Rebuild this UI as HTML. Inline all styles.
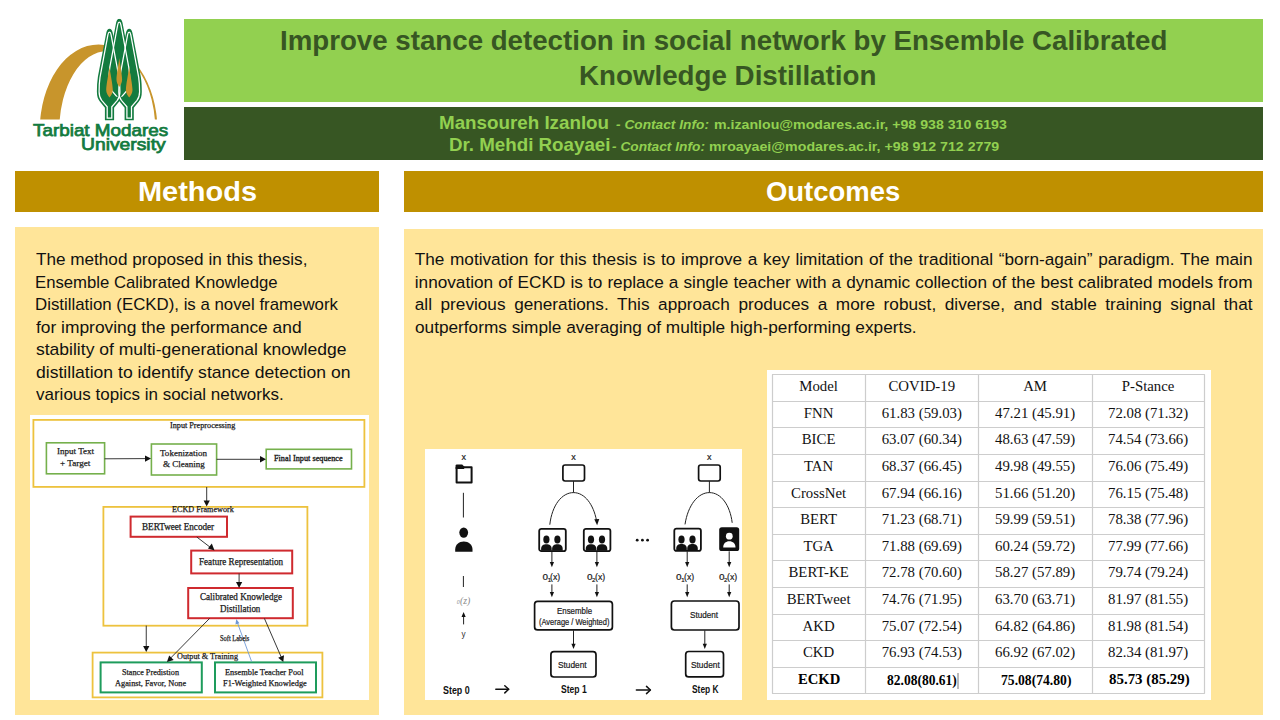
<!DOCTYPE html>
<html><head><meta charset="utf-8">
<style>
*{margin:0;padding:0;box-sizing:border-box}
html,body{width:1280px;height:720px;overflow:hidden;background:#fff;font-family:"Liberation Sans",sans-serif}
.a{position:absolute}
.t{position:absolute;white-space:nowrap;transform-origin:0 0}
#title{left:184px;top:19px;width:1079px;height:83px;background:#92D050}
#auth{left:184px;top:107px;width:1079px;height:53px;background:#375623}
.bar{background:#BF9000}
#mbar{left:15px;top:171px;width:364px;height:41px}
#obar{left:404px;top:171px;width:859px;height:41px}
#mbox{left:15px;top:227px;width:364px;height:488px;background:#FFE599}
#obox{left:404px;top:229px;width:859px;height:486px;background:#FFE599}
#mimg{left:30px;top:415px;width:339px;height:285px;background:#fff}
#oimg{left:425px;top:449px;width:317px;height:251px;background:#fff}
#timg{left:767px;top:370px;width:444px;height:330px;background:#fff}
svg{position:absolute;left:0;top:0}
</style></head><body>
<div class="a" id="title"></div>
<div class="a" id="auth"></div>
<div class="a bar" id="mbar"></div>
<div class="a bar" id="obar"></div>
<div class="a" id="mbox"></div>
<div class="a" id="obox"></div>
<div class="a" id="mimg"></div>
<div class="a" id="oimg"></div>
<div class="a" id="timg"></div>
<svg width="200" height="160" viewBox="0 0 200 160">
<defs>
<clipPath id="cc"><rect x="-20" y="0" width="40" height="78"/></clipPath>
<clipPath id="cc2"><rect x="-20" y="0" width="40" height="76"/></clipPath>
<clipPath id="lc"><rect x="0" y="0" width="200" height="119.6"/></clipPath>
<path id="tree" d="M0 0 C1.6 0 2.6 1.5 3.2 4 L11.6 48 C12.4 53 12.6 58 12.6 63 C12.6 68 11.5 70.5 9.5 73 L4.6 79 L4.6 91.5 L-4.6 91.5 L-4.6 79 L-9.5 73 C-11.5 70.5 -12.6 68 -12.6 63 C-12.6 58 -12.4 53 -11.6 48 L-3.2 4 C-2.6 1.5 -1.6 0 0 0 Z"/>
<path id="treei" d="M0 3.3 C0.8 3.3 1.3 4.5 1.6 6 L9.5 48.5 C10.2 53 10.4 58 10.4 63 C10.4 67.5 9.5 69.5 7.8 71.6 L2.3 78 L2.3 89.3 L-2.3 89.3 L-2.3 78 L-7.8 71.6 C-9.5 69.5 -10.4 67.5 -10.4 63 C-10.4 58 -10.2 53 -9.5 48.5 L-1.6 6 C-1.3 4.5 -0.8 3.3 0 3.3 Z"/>
<path id="flame" d="M0 0 C0.8 6 3.3 18 3.3 23 C3.3 26 1.5 28.5 0 30.5 C-1.5 28.5 -3.3 26 -3.3 23 C-3.3 18 -0.8 6 0 0 Z"/>
</defs>
<g clip-path="url(#lc)">
<path fill="#C8952C" fill-rule="evenodd" d="M39.8 130 A58.8 85.6 0 0 1 157.4 130 Z M59.3 130 A48 79 0 0 1 155.3 130 Z"/>
</g>
<g fill="#137B3F">
<use href="#tree" transform="translate(119.3 18.8)" clip-path="url(#cc2)"/>
<use href="#tree" transform="translate(109.5 28.8)"/>
<use href="#tree" transform="translate(129.2 28.8)"/>
</g>
<g fill="none" stroke="#fff" stroke-width="1.25">
<use href="#treei" transform="translate(119.3 18.8)" clip-path="url(#cc)"/>
<use href="#treei" transform="translate(109.5 28.8)"/>
<use href="#treei" transform="translate(129.2 28.8)"/>
</g>
<g fill="#C8952C">
<use href="#flame" transform="translate(119.3 58) scale(0.85 0.95)"/>
<use href="#flame" transform="translate(109.5 67)"/>
<use href="#flame" transform="translate(129.2 67)"/>
</g>
</svg>

<svg width="1280" height="720" viewBox="0 0 1280 720">
<g fill="none" stroke="#EDC23E" stroke-width="1.8">
<rect x="33.4" y="419.9" width="331" height="67"/>
<rect x="103.4" y="506.9" width="204" height="118.8"/>
<rect x="92.6" y="652.6" width="229.8" height="44.8"/>
</g>
<g fill="#fff" stroke="#75B04C" stroke-width="1.6">
<rect x="46.4" y="442.8" width="58.2" height="31"/>
<rect x="151.4" y="444" width="65.2" height="31"/>
<rect x="266.2" y="449.3" width="85.3" height="19.6"/>
</g>
<g fill="#fff" stroke="#CF2A2F" stroke-width="2">
<rect x="130.6" y="516.6" width="96.4" height="20.2"/>
<rect x="191.2" y="550.6" width="101" height="22.8"/>
<rect x="188.2" y="588" width="104.6" height="30.2"/>
</g>
<g fill="#fff" stroke="#1E9C5C" stroke-width="2">
<rect x="100.6" y="662.4" width="101.2" height="30"/>
<rect x="215" y="662.4" width="101" height="30"/>
</g>
<g stroke="#222" stroke-width="0.9" fill="none">
<line x1="104.6" y1="458.8" x2="146" y2="458.6"/>
<line x1="216.6" y1="459.3" x2="261" y2="459.3"/>
<line x1="206.7" y1="487" x2="206.7" y2="501"/>
<line x1="196.8" y1="537" x2="210.5" y2="547.5"/>
<line x1="239.1" y1="573.5" x2="239.1" y2="583"/>
<line x1="146.25" y1="625.6" x2="146.25" y2="646.5"/>
<line x1="209.6" y1="618.4" x2="170.4" y2="658.3"/>
<line x1="264.4" y1="618.4" x2="281.2" y2="657"/>
</g>
<g fill="#111">
<path d="M151 458.6 L145 455.4 L145 461.8 Z"/>
<path d="M266 459.3 L260 456.1 L260 462.5 Z"/>
<path d="M206.7 506.4 L203.6 500.4 L209.8 500.4 Z"/>
<path d="M214.5 550.6 L207.9 548.6 L211.8 543.6 Z"/>
<path d="M239.1 588 L236 582 L242.2 582 Z"/>
<path d="M146.25 652 L143.1 646 L149.4 646 Z"/>
<path d="M166.9 661.9 L169.2 655.5 L173.7 659.9 Z"/>
<path d="M283.3 662 L278.2 657.8 L284 655.3 Z"/>
</g>
<line x1="251.6" y1="661.6" x2="237.5" y2="623" stroke="#6E98D6" stroke-width="0.9"/>
<path d="M236.3 619 L235.4 624.6 L239.4 623.2 Z" fill="#6E98D6"/>
</svg>

<svg width="1280" height="720" viewBox="0 0 1280 720">
<defs>
<g id="pp"><ellipse cx="0" cy="-6.2" rx="3.1" ry="4"/><path d="M-5.3 5 L-5.3 3.2 C-5.3 -0.3 -3 -1.6 0 -1.6 C3 -1.6 5.3 -0.3 5.3 3.2 L5.3 5 Z"/></g>
<g id="tbox">
<rect x="0.9" y="0.9" width="26.6" height="22.3" rx="2.2" fill="#fff" stroke="#111" stroke-width="1.8"/>
<use href="#pp" x="8.1" y="17.9" fill="#111"/><use href="#pp" x="19.1" y="17.9" fill="#111"/>
</g>
</defs>
<g fill="none" stroke="#111" stroke-width="1.7">
<rect x="562.9" y="465" width="21.6" height="16" rx="2.2"/>
<rect x="698.6" y="465" width="21.6" height="16" rx="2.2"/>
<rect x="534.6" y="601.3" width="77.8" height="28.6" rx="3"/>
<rect x="550.9" y="651.7" width="45.1" height="25.3" rx="3"/>
<rect x="671.4" y="601" width="67.6" height="29" rx="3"/>
<rect x="685.7" y="651.5" width="37.8" height="25.4" rx="3"/>
</g>
<path d="M456.6 482.6 L456.6 467.3 L471.6 467.3 L471.6 482.6 Z" fill="none" stroke="#111" stroke-width="2" stroke-linejoin="round"/>
<path d="M455.6 469 L455.6 465.6 Q455.6 464.4 456.8 464.4 L462.2 464.4 L464.2 466.4 L464.2 469 Z" fill="#111"/>
<g stroke="#222" stroke-width="1" fill="none">
<line x1="463.4" y1="492.8" x2="463.4" y2="517.5"/>
<line x1="463.4" y1="576" x2="463.4" y2="587"/>
<line x1="463.6" y1="624.4" x2="463.6" y2="615"/>
<line x1="573.5" y1="481" x2="573.5" y2="492.6"/>
<path d="M549.8 524.7 C552 505 562 492.6 573.5 492.6 C585 492.6 593.5 505 596.4 520"/>
<line x1="709.4" y1="481" x2="709.4" y2="492.6"/>
<path d="M685 524.4 C688 505 698 492.6 709.4 492.6 C721 492.6 730 505 732.2 522.8"/>
<line x1="551.9" y1="551.3" x2="551.9" y2="563"/>
<line x1="596.9" y1="551.3" x2="596.9" y2="563"/>
<line x1="551.9" y1="584.4" x2="551.9" y2="593"/>
<line x1="596.9" y1="584.4" x2="596.9" y2="593"/>
<line x1="687.2" y1="551.3" x2="687.2" y2="563"/>
<line x1="729.2" y1="551.3" x2="729.2" y2="563"/>
<line x1="687.2" y1="584.4" x2="687.2" y2="593"/>
<line x1="729.2" y1="584.4" x2="729.2" y2="593"/>
<line x1="573.5" y1="630.3" x2="573.5" y2="645"/>
<line x1="704.8" y1="630.3" x2="704.8" y2="645"/>
</g>
<g fill="#111">
<path d="M463.6 612 L461.5 617 L465.7 617 Z"/>
<path d="M597.1 525.2 L594.3 519.3 L599.3 519.1 Z"/>
<path d="M551.9 567.2 L549.8 562 L554 562 Z"/>
<path d="M596.9 567.2 L594.8 562 L599 562 Z"/>
<path d="M551.9 597.2 L549.8 592 L554 592 Z"/>
<path d="M596.9 597.2 L594.8 592 L599 592 Z"/>
<path d="M687.2 567.2 L685.1 562 L689.3 562 Z"/>
<path d="M729.2 567.2 L727.1 562 L731.3 562 Z"/>
<path d="M687.2 597.2 L685.1 592 L689.3 592 Z"/>
<path d="M729.2 597.2 L727.1 592 L731.3 592 Z"/>
<path d="M573.5 649 L571.4 643.8 L575.6 643.8 Z"/>
<path d="M704.8 649 L702.7 643.8 L706.9 643.8 Z"/>
<circle cx="637.2" cy="540.2" r="1.4"/><circle cx="642.4" cy="540.2" r="1.4"/><circle cx="647.6" cy="540.2" r="1.4"/>
<ellipse cx="463.7" cy="532.6" rx="4.4" ry="5.2"/><path d="M455.2 551.8 L455.2 549.6 C455.2 544.6 459 541.5 463.8 541.5 C468.6 541.5 472.5 544.6 472.5 549.6 L472.5 551.8 Z"/>
</g>
<use href="#tbox" x="538.3" y="527.9"/>
<use href="#tbox" x="582.9" y="527.9"/>
<use href="#tbox" x="673.4" y="527.7"/>
<rect x="719.2" y="527.2" width="20" height="23.9" rx="2.6" fill="#111"/>
<circle cx="729.3" cy="536.2" r="3.4" fill="#fff"/>
<path d="M723.2 547.4 C723.2 543.3 725.8 541.2 729.3 541.2 C732.8 541.2 735.5 543.3 735.5 547.4 Z" fill="#fff"/>
<g stroke="#111" stroke-width="1.5" fill="none" stroke-linecap="round" stroke-linejoin="round">
<line x1="495.8" y1="689.3" x2="508.5" y2="689.3"/><path d="M504.8 685.7 L508.7 689.3 L504.8 692.9"/>
<line x1="636.4" y1="690" x2="650.2" y2="690"/><path d="M646.5 686.4 L650.4 690 L646.5 693.6"/>
</g>
</svg>

<svg width="1280" height="720" viewBox="0 0 1280 720"><g stroke="#CDCDCD" stroke-width="1.2"><line x1="772" y1="374.5" x2="1204.9" y2="374.5"/><line x1="772" y1="401.5" x2="1204.9" y2="401.5"/><line x1="772" y1="427.5" x2="1204.9" y2="427.5"/><line x1="772" y1="454.5" x2="1204.9" y2="454.5"/><line x1="772" y1="481.5" x2="1204.9" y2="481.5"/><line x1="772" y1="507.5" x2="1204.9" y2="507.5"/><line x1="772" y1="534.5" x2="1204.9" y2="534.5"/><line x1="772" y1="560.5" x2="1204.9" y2="560.5"/><line x1="772" y1="587.5" x2="1204.9" y2="587.5"/><line x1="772" y1="614.5" x2="1204.9" y2="614.5"/><line x1="772" y1="640.5" x2="1204.9" y2="640.5"/><line x1="772" y1="667.5" x2="1204.9" y2="667.5"/><line x1="772" y1="693.5" x2="1204.9" y2="693.5"/><line x1="772.5" y1="374.5" x2="772.5" y2="693.5"/><line x1="865.5" y1="374.5" x2="865.5" y2="693.5"/><line x1="978.5" y1="374.5" x2="978.5" y2="693.5"/><line x1="1092.5" y1="374.5" x2="1092.5" y2="693.5"/><line x1="1204.5" y1="374.5" x2="1204.5" y2="693.5"/></g><line x1="958" y1="673" x2="958" y2="689" stroke="#555" stroke-width="0.8"/></svg>
<div class="t" style="top:26.64px;font-size:27.6px;line-height:27.6px;color:#375623;font-weight:bold;left:280.00px;transform:scaleX(1.0029);">Improve stance detection in social network by Ensemble Calibrated</div>
<div class="t" style="top:62.04px;font-size:27.6px;line-height:27.6px;color:#375623;font-weight:bold;left:579.29px;transform:scaleX(1.0050);">Knowledge Distillation</div>
<div class="t" style="top:113.52px;font-size:18.4px;line-height:18.4px;color:#92D050;font-weight:bold;left:439.48px;transform:scaleX(1.0211);">Mansoureh Izanlou</div>
<div class="t" style="top:118.10px;font-size:13px;line-height:13px;color:#92D050;font-weight:bold;font-style:italic;left:616.30px;transform:scaleX(1.0551);">- Contact Info:</div>
<div class="t" style="top:118.10px;font-size:13px;line-height:13px;color:#92D050;font-weight:bold;left:713.75px;transform:scaleX(1.0889);">m.izanlou@modares.ac.ir, +98 938 310 6193</div>
<div class="t" style="top:135.82px;font-size:18.4px;line-height:18.4px;color:#92D050;font-weight:bold;left:448.98px;transform:scaleX(1.0192);">Dr. Mehdi Roayaei</div>
<div class="t" style="top:140.40px;font-size:13px;line-height:13px;color:#92D050;font-weight:bold;font-style:italic;left:611.60px;transform:scaleX(1.0551);">- Contact Info:</div>
<div class="t" style="top:140.40px;font-size:13px;line-height:13px;color:#92D050;font-weight:bold;left:708.75px;transform:scaleX(1.0911);">mroayaei@modares.ac.ir, +98 912 712 2779</div>
<div class="t" style="top:122.22px;font-size:16.4px;line-height:16.4px;color:#137B3F;left:32.50px;transform:scaleX(1.1507);-webkit-text-stroke:0.75px #137B3F;">Tarbiat Modares</div>
<div class="t" style="top:136.32px;font-size:16.4px;line-height:16.4px;color:#137B3F;left:81.32px;transform:scaleX(1.1762);-webkit-text-stroke:0.75px #137B3F;">University</div>
<div class="t" style="top:177.07px;font-size:28.5px;line-height:28.5px;color:#fff;font-weight:bold;left:138.28px;transform:scaleX(1.0155);">Methods</div>
<div class="t" style="top:178.20px;font-size:28px;line-height:28px;color:#fff;font-weight:bold;left:766.32px;transform:scaleX(0.9804);">Outcomes</div>
<div class="t" style="top:251.41px;font-size:17px;line-height:17px;color:#111;left:36.00px;transform:scaleX(1.0078);">The method proposed in this thesis,</div>
<div class="t" style="top:273.86px;font-size:17px;line-height:17px;color:#111;left:35.02px;transform:scaleX(0.9833);">Ensemble Calibrated Knowledge</div>
<div class="t" style="top:296.31px;font-size:17px;line-height:17px;color:#111;left:35.01px;transform:scaleX(0.9896);">Distillation (ECKD), is a novel framework</div>
<div class="t" style="top:318.76px;font-size:17px;line-height:17px;color:#111;left:36.00px;transform:scaleX(1.0220);">for improving the performance and</div>
<div class="t" style="top:341.21px;font-size:17px;line-height:17px;color:#111;left:36.00px;transform:scaleX(1.0299);">stability of multi-generational knowledge</div>
<div class="t" style="top:363.66px;font-size:17px;line-height:17px;color:#111;left:36.00px;transform:scaleX(1.0334);">distillation to identify stance detection on</div>
<div class="t" style="top:386.11px;font-size:17px;line-height:17px;color:#111;left:36.00px;transform:scaleX(1.0003);">various topics in social networks.</div>
<div class="t" style="top:251.14px;font-size:17.2px;line-height:17.2px;color:#111;left:414.75px;width:837.75px;text-align:justify;text-align-last:justify;white-space:normal;">The motivation for this thesis is to improve a key limitation of the traditional “born-again” paradigm. The main</div>
<div class="t" style="top:273.71px;font-size:17.2px;line-height:17.2px;color:#111;left:414.75px;width:837.75px;text-align:justify;text-align-last:justify;white-space:normal;">innovation of ECKD is to replace a single teacher with a dynamic collection of the best calibrated models from</div>
<div class="t" style="top:296.28px;font-size:17.2px;line-height:17.2px;color:#111;left:414.75px;width:837.75px;text-align:justify;text-align-last:justify;white-space:normal;">all previous generations. This approach produces a more robust, diverse, and stable training signal that</div>
<div class="t" style="top:318.85px;font-size:17.2px;line-height:17.2px;color:#111;left:414.75px;transform:scaleX(1.0021);">outperforms simple averaging of multiple high-performing experts.</div>
<div class="t" style="top:420.90px;font-size:8.6px;line-height:8.6px;color:#1a1a1a;font-family:'Liberation Serif';left:169.60px;transform:scaleX(0.9523);-webkit-text-stroke:0.25px #1a1a1a;">Input Preprocessing</div>
<div class="t" style="top:447.10px;font-size:9.2px;line-height:9.2px;color:#1a1a1a;font-family:'Liberation Serif';left:56.70px;transform:scaleX(0.9835);-webkit-text-stroke:0.25px #1a1a1a;">Input Text</div>
<div class="t" style="top:458.90px;font-size:9.2px;line-height:9.2px;color:#1a1a1a;font-family:'Liberation Serif';left:59.70px;transform:scaleX(0.9939);-webkit-text-stroke:0.25px #1a1a1a;">+ Target</div>
<div class="t" style="top:448.69px;font-size:9.2px;line-height:9.2px;color:#1a1a1a;font-family:'Liberation Serif';left:160.00px;transform:scaleX(0.9806);-webkit-text-stroke:0.25px #1a1a1a;">Tokenization</div>
<div class="t" style="top:460.00px;font-size:9.2px;line-height:9.2px;color:#1a1a1a;font-family:'Liberation Serif';left:162.80px;transform:scaleX(0.9809);-webkit-text-stroke:0.25px #1a1a1a;">&amp; Cleaning</div>
<div class="t" style="top:454.96px;font-size:8.4px;line-height:8.4px;color:#1a1a1a;font-family:'Liberation Serif';left:274.20px;transform:scaleX(0.9835);-webkit-text-stroke:0.35px #1a1a1a;">Final Input sequence</div>
<div class="t" style="top:506.06px;font-size:8.4px;line-height:8.4px;color:#1a1a1a;font-family:'Liberation Serif';left:171.90px;transform:scaleX(0.9734);-webkit-text-stroke:0.25px #1a1a1a;">ECKD Framework</div>
<div class="t" style="top:522.61px;font-size:9.3px;line-height:9.3px;color:#1a1a1a;font-family:'Liberation Serif';left:141.80px;transform:scaleX(0.9825);-webkit-text-stroke:0.25px #1a1a1a;">BERTweet Encoder</div>
<div class="t" style="top:557.51px;font-size:9.3px;line-height:9.3px;color:#1a1a1a;font-family:'Liberation Serif';left:199.30px;transform:scaleX(0.9790);-webkit-text-stroke:0.25px #1a1a1a;">Feature Representation</div>
<div class="t" style="top:593.21px;font-size:9.3px;line-height:9.3px;color:#1a1a1a;font-family:'Liberation Serif';left:199.70px;transform:scaleX(0.9776);-webkit-text-stroke:0.25px #1a1a1a;">Calibrated Knowledge</div>
<div class="t" style="top:604.51px;font-size:9.3px;line-height:9.3px;color:#1a1a1a;font-family:'Liberation Serif';left:220.30px;transform:scaleX(0.9647);-webkit-text-stroke:0.25px #1a1a1a;">Distillation</div>
<div class="t" style="top:651.55px;font-size:8.6px;line-height:8.6px;color:#1a1a1a;font-family:'Liberation Serif';left:177.20px;transform:scaleX(0.9530);-webkit-text-stroke:0.25px #1a1a1a;">Output &amp; Training</div>
<div class="t" style="top:668.40px;font-size:8.6px;line-height:8.6px;color:#1a1a1a;font-family:'Liberation Serif';left:121.90px;transform:scaleX(0.9520);-webkit-text-stroke:0.25px #1a1a1a;">Stance Predistion</div>
<div class="t" style="top:678.80px;font-size:8.6px;line-height:8.6px;color:#1a1a1a;font-family:'Liberation Serif';left:115.30px;transform:scaleX(0.9657);-webkit-text-stroke:0.25px #1a1a1a;">Against, Favor, None</div>
<div class="t" style="top:668.40px;font-size:8.6px;line-height:8.6px;color:#1a1a1a;font-family:'Liberation Serif';left:225.40px;transform:scaleX(0.9715);-webkit-text-stroke:0.25px #1a1a1a;">Ensemble Teacher Pool</div>
<div class="t" style="top:678.80px;font-size:8.6px;line-height:8.6px;color:#1a1a1a;font-family:'Liberation Serif';left:223.10px;transform:scaleX(0.9699);-webkit-text-stroke:0.25px #1a1a1a;">F1-Weighted Knowledge</div>
<div class="t" style="top:634.80px;font-size:7.4px;line-height:7.4px;color:#1a1a1a;font-family:'Liberation Serif';left:220.30px;transform:scaleX(0.8664);-webkit-text-stroke:0.25px #1a1a1a;">Soft Labels</div>
<div class="t" style="top:453.38px;font-size:9px;line-height:9px;color:#1a1a1a;left:461.45px;-webkit-text-stroke:0.2px #1a1a1a;">x</div>
<div class="t" style="top:453.38px;font-size:9px;line-height:9px;color:#1a1a1a;left:571.25px;-webkit-text-stroke:0.2px #1a1a1a;">x</div>
<div class="t" style="top:453.38px;font-size:9px;line-height:9px;color:#1a1a1a;left:706.95px;-webkit-text-stroke:0.2px #1a1a1a;">x</div>
<div class="t" style="top:606.72px;font-size:8.6px;line-height:8.6px;color:#1a1a1a;left:556.70px;transform:scaleX(0.9184);-webkit-text-stroke:0.2px #1a1a1a;">Ensemble</div>
<div class="t" style="top:617.62px;font-size:8.6px;line-height:8.6px;color:#1a1a1a;left:539.00px;transform:scaleX(0.8701);-webkit-text-stroke:0.2px #1a1a1a;">(Average / Weighted)</div>
<div class="t" style="top:660.72px;font-size:8.6px;line-height:8.6px;color:#1a1a1a;left:558.40px;transform:scaleX(0.9657);-webkit-text-stroke:0.2px #1a1a1a;">Student</div>
<div class="t" style="top:611.12px;font-size:8.6px;line-height:8.6px;color:#1a1a1a;left:690.30px;transform:scaleX(0.9459);-webkit-text-stroke:0.2px #1a1a1a;">Student</div>
<div class="t" style="top:660.72px;font-size:8.6px;line-height:8.6px;color:#1a1a1a;left:691.00px;transform:scaleX(0.9690);-webkit-text-stroke:0.2px #1a1a1a;">Student</div>
<div class="t" style="top:684.59px;font-size:11px;line-height:11px;color:#111;font-weight:bold;left:443.40px;transform:scaleX(0.8087);">Step 0</div>
<div class="t" style="top:684.19px;font-size:11px;line-height:11px;color:#111;font-weight:bold;left:560.60px;transform:scaleX(0.7783);">Step 1</div>
<div class="t" style="top:684.19px;font-size:11px;line-height:11px;color:#111;font-weight:bold;left:692.30px;transform:scaleX(0.7623);">Step K</div>
<div class="t" style="top:630.56px;font-size:8.2px;line-height:8.2px;color:#333;left:461.45px;">y</div>
<div class="t" style="top:379.11px;font-size:14.8px;line-height:14.8px;color:#111;font-family:'Liberation Serif';left:799.28px;">Model</div>
<div class="t" style="top:379.11px;font-size:14.8px;line-height:14.8px;color:#111;font-family:'Liberation Serif';left:888.51px;">COVID-19</div>
<div class="t" style="top:379.11px;font-size:14.8px;line-height:14.8px;color:#111;font-family:'Liberation Serif';left:1023.18px;">AM</div>
<div class="t" style="top:379.11px;font-size:14.8px;line-height:14.8px;color:#111;font-family:'Liberation Serif';left:1121.80px;">P-Stance</div>
<div class="t" style="top:405.71px;font-size:14.8px;line-height:14.8px;color:#111;font-family:'Liberation Serif';left:803.80px;">FNN</div>
<div class="t" style="top:405.71px;font-size:14.8px;line-height:14.8px;color:#111;font-family:'Liberation Serif';left:881.73px;">61.83 (59.03)</div>
<div class="t" style="top:405.71px;font-size:14.8px;line-height:14.8px;color:#111;font-family:'Liberation Serif';left:995.03px;">47.21 (45.91)</div>
<div class="t" style="top:405.71px;font-size:14.8px;line-height:14.8px;color:#111;font-family:'Liberation Serif';left:1108.03px;">72.08 (71.32)</div>
<div class="t" style="top:432.31px;font-size:14.8px;line-height:14.8px;color:#111;font-family:'Liberation Serif';left:801.75px;">BICE</div>
<div class="t" style="top:432.31px;font-size:14.8px;line-height:14.8px;color:#111;font-family:'Liberation Serif';left:881.73px;">63.07 (60.34)</div>
<div class="t" style="top:432.31px;font-size:14.8px;line-height:14.8px;color:#111;font-family:'Liberation Serif';left:995.03px;">48.63 (47.59)</div>
<div class="t" style="top:432.31px;font-size:14.8px;line-height:14.8px;color:#111;font-family:'Liberation Serif';left:1108.03px;">74.54 (73.66)</div>
<div class="t" style="top:458.91px;font-size:14.8px;line-height:14.8px;color:#111;font-family:'Liberation Serif';left:803.99px;">TAN</div>
<div class="t" style="top:458.91px;font-size:14.8px;line-height:14.8px;color:#111;font-family:'Liberation Serif';left:881.73px;">68.37 (66.45)</div>
<div class="t" style="top:458.91px;font-size:14.8px;line-height:14.8px;color:#111;font-family:'Liberation Serif';left:995.03px;">49.98 (49.55)</div>
<div class="t" style="top:458.91px;font-size:14.8px;line-height:14.8px;color:#111;font-family:'Liberation Serif';left:1108.03px;">76.06 (75.49)</div>
<div class="t" style="top:485.50px;font-size:14.8px;line-height:14.8px;color:#111;font-family:'Liberation Serif';left:791.06px;">CrossNet</div>
<div class="t" style="top:485.50px;font-size:14.8px;line-height:14.8px;color:#111;font-family:'Liberation Serif';left:881.73px;">67.94 (66.16)</div>
<div class="t" style="top:485.50px;font-size:14.8px;line-height:14.8px;color:#111;font-family:'Liberation Serif';left:995.03px;">51.66 (51.20)</div>
<div class="t" style="top:485.50px;font-size:14.8px;line-height:14.8px;color:#111;font-family:'Liberation Serif';left:1108.03px;">76.15 (75.48)</div>
<div class="t" style="top:512.11px;font-size:14.8px;line-height:14.8px;color:#111;font-family:'Liberation Serif';left:800.14px;">BERT</div>
<div class="t" style="top:512.11px;font-size:14.8px;line-height:14.8px;color:#111;font-family:'Liberation Serif';left:881.73px;">71.23 (68.71)</div>
<div class="t" style="top:512.11px;font-size:14.8px;line-height:14.8px;color:#111;font-family:'Liberation Serif';left:995.03px;">59.99 (59.51)</div>
<div class="t" style="top:512.11px;font-size:14.8px;line-height:14.8px;color:#111;font-family:'Liberation Serif';left:1108.03px;">78.38 (77.96)</div>
<div class="t" style="top:538.71px;font-size:14.8px;line-height:14.8px;color:#111;font-family:'Liberation Serif';left:803.39px;">TGA</div>
<div class="t" style="top:538.71px;font-size:14.8px;line-height:14.8px;color:#111;font-family:'Liberation Serif';left:881.73px;">71.88 (69.69)</div>
<div class="t" style="top:538.71px;font-size:14.8px;line-height:14.8px;color:#111;font-family:'Liberation Serif';left:995.03px;">60.24 (59.72)</div>
<div class="t" style="top:538.71px;font-size:14.8px;line-height:14.8px;color:#111;font-family:'Liberation Serif';left:1108.03px;">77.99 (77.66)</div>
<div class="t" style="top:565.31px;font-size:14.8px;line-height:14.8px;color:#111;font-family:'Liberation Serif';left:788.49px;">BERT-KE</div>
<div class="t" style="top:565.31px;font-size:14.8px;line-height:14.8px;color:#111;font-family:'Liberation Serif';left:881.73px;">72.78 (70.60)</div>
<div class="t" style="top:565.31px;font-size:14.8px;line-height:14.8px;color:#111;font-family:'Liberation Serif';left:995.03px;">58.27 (57.89)</div>
<div class="t" style="top:565.31px;font-size:14.8px;line-height:14.8px;color:#111;font-family:'Liberation Serif';left:1108.03px;">79.74 (79.24)</div>
<div class="t" style="top:591.90px;font-size:14.8px;line-height:14.8px;color:#111;font-family:'Liberation Serif';left:786.69px;">BERTweet</div>
<div class="t" style="top:591.90px;font-size:14.8px;line-height:14.8px;color:#111;font-family:'Liberation Serif';left:881.73px;">74.76 (71.95)</div>
<div class="t" style="top:591.90px;font-size:14.8px;line-height:14.8px;color:#111;font-family:'Liberation Serif';left:995.03px;">63.70 (63.71)</div>
<div class="t" style="top:591.90px;font-size:14.8px;line-height:14.8px;color:#111;font-family:'Liberation Serif';left:1108.03px;">81.97 (81.55)</div>
<div class="t" style="top:618.50px;font-size:14.8px;line-height:14.8px;color:#111;font-family:'Liberation Serif';left:802.57px;">AKD</div>
<div class="t" style="top:618.50px;font-size:14.8px;line-height:14.8px;color:#111;font-family:'Liberation Serif';left:881.73px;">75.07 (72.54)</div>
<div class="t" style="top:618.50px;font-size:14.8px;line-height:14.8px;color:#111;font-family:'Liberation Serif';left:995.03px;">64.82 (64.86)</div>
<div class="t" style="top:618.50px;font-size:14.8px;line-height:14.8px;color:#111;font-family:'Liberation Serif';left:1108.03px;">81.98 (81.54)</div>
<div class="t" style="top:645.11px;font-size:14.8px;line-height:14.8px;color:#111;font-family:'Liberation Serif';left:802.98px;">CKD</div>
<div class="t" style="top:645.11px;font-size:14.8px;line-height:14.8px;color:#111;font-family:'Liberation Serif';left:881.73px;">76.93 (74.53)</div>
<div class="t" style="top:645.11px;font-size:14.8px;line-height:14.8px;color:#111;font-family:'Liberation Serif';left:995.03px;">66.92 (67.02)</div>
<div class="t" style="top:645.11px;font-size:14.8px;line-height:14.8px;color:#111;font-family:'Liberation Serif';left:1108.03px;">82.34 (81.97)</div>
<div class="t" style="top:671.86px;font-size:14.5px;line-height:14.5px;color:#000;font-family:'Liberation Serif';font-weight:bold;left:797.90px;transform:scaleX(1.0091);">ECKD</div>
<div class="t" style="top:672.61px;font-size:14.2px;line-height:14.2px;color:#000;font-family:'Liberation Serif';font-weight:bold;left:886.80px;transform:scaleX(0.9529);">82.08(80.61)</div>
<div class="t" style="top:673.11px;font-size:14.2px;line-height:14.2px;color:#000;font-family:'Liberation Serif';font-weight:bold;left:1000.70px;transform:scaleX(0.9610);">75.08(74.80)</div>
<div class="t" style="top:671.61px;font-size:14.8px;line-height:14.8px;color:#000;font-family:'Liberation Serif';font-weight:bold;left:1109.00px;transform:scaleX(1.0073);">85.73 (85.29)</div>
<div class="t" style="top:571.83px;font-size:10px;line-height:10px;color:#1a1a1a;left:542.50px;-webkit-text-stroke:0.2px #1a1a1a;">o</div>
<div class="t" style="top:577.02px;font-size:6px;line-height:6px;color:#1a1a1a;left:547.70px;-webkit-text-stroke:0.2px #1a1a1a;">1</div>
<div class="t" style="top:572.26px;font-size:9.5px;line-height:9.5px;color:#1a1a1a;left:550.30px;transform:scaleX(0.9163);-webkit-text-stroke:0.2px #1a1a1a;">(x)</div>
<div class="t" style="top:571.83px;font-size:10px;line-height:10px;color:#1a1a1a;left:676.10px;-webkit-text-stroke:0.2px #1a1a1a;">o</div>
<div class="t" style="top:577.02px;font-size:6px;line-height:6px;color:#1a1a1a;left:681.30px;-webkit-text-stroke:0.2px #1a1a1a;">1</div>
<div class="t" style="top:572.26px;font-size:9.5px;line-height:9.5px;color:#1a1a1a;left:683.90px;transform:scaleX(0.9163);-webkit-text-stroke:0.2px #1a1a1a;">(x)</div>
<div class="t" style="top:571.83px;font-size:10px;line-height:10px;color:#1a1a1a;left:586.90px;-webkit-text-stroke:0.2px #1a1a1a;">o</div>
<div class="t" style="top:577.02px;font-size:6px;line-height:6px;color:#1a1a1a;left:592.10px;-webkit-text-stroke:0.2px #1a1a1a;">2</div>
<div class="t" style="top:572.26px;font-size:9.5px;line-height:9.5px;color:#1a1a1a;left:594.70px;transform:scaleX(0.9163);-webkit-text-stroke:0.2px #1a1a1a;">(x)</div>
<div class="t" style="top:571.83px;font-size:10px;line-height:10px;color:#1a1a1a;left:718.90px;-webkit-text-stroke:0.2px #1a1a1a;">o</div>
<div class="t" style="top:577.02px;font-size:6px;line-height:6px;color:#1a1a1a;left:724.10px;-webkit-text-stroke:0.2px #1a1a1a;">2</div>
<div class="t" style="top:572.26px;font-size:9.5px;line-height:9.5px;color:#1a1a1a;left:726.70px;transform:scaleX(0.9163);-webkit-text-stroke:0.2px #1a1a1a;">(x)</div>
<div class="t" style="top:599.48px;font-size:6px;line-height:6px;color:#8a8a8a;font-family:'Liberation Serif';font-style:italic;left:456.70px;">0</div>
<div class="t" style="top:595.62px;font-size:10px;line-height:10px;color:#8a8a8a;font-family:'Liberation Serif';font-style:italic;left:460.00px;transform:scaleX(0.9802);">(z)</div>
</body></html>
